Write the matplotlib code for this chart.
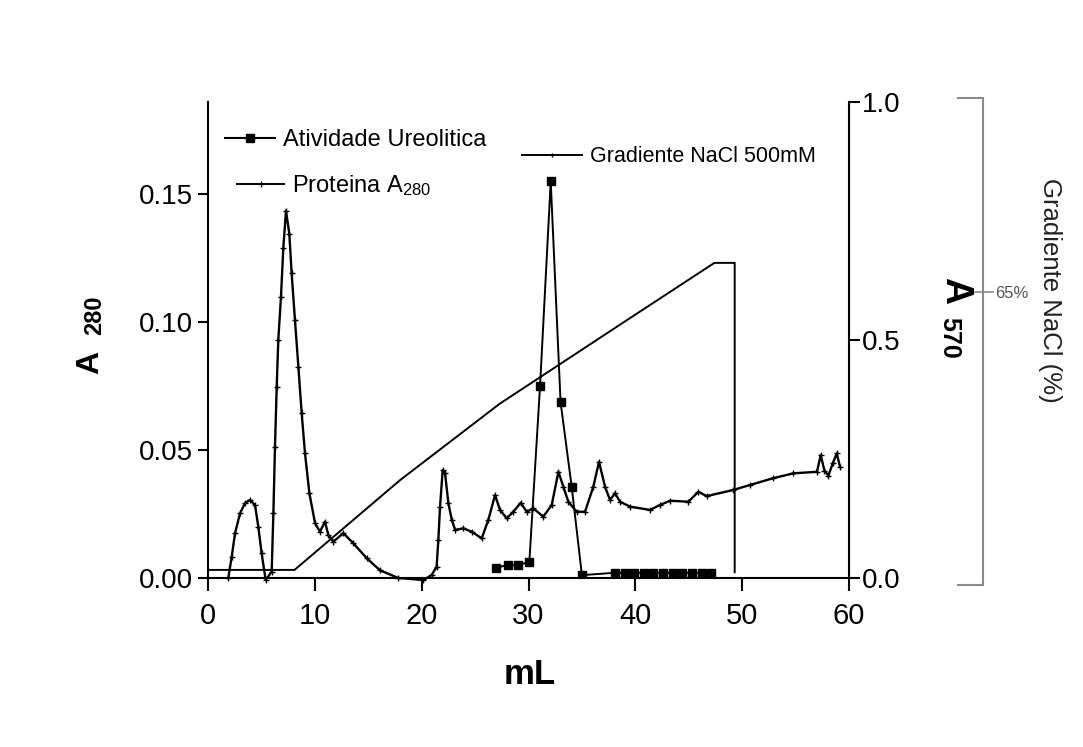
import matplotlib
matplotlib.use("Agg")
import matplotlib.pyplot as plt
from matplotlib.lines import Line2D
from matplotlib.ticker import FormatStrFormatter

# Proteina A280 (left axis)
prot_x = [1.9, 2.22, 2.53, 3.0, 3.46, 3.93, 4.4, 4.71, 5.02, 5.4,
          5.96, 6.12, 6.27, 6.43, 6.58, 6.83, 7.05, 7.3, 7.61, 7.83,
          8.14, 8.46, 8.77, 9.08, 9.49, 10.02, 10.48, 10.95, 11.26, 11.73,
          12.67, 13.6, 14.86, 16.1, 17.82, 20.16, 20.94, 21.4, 21.56, 21.72,
          21.97, 22.19, 22.5, 22.82, 23.13, 23.9, 24.68, 25.62, 26.24, 26.87,
          27.33, 27.96, 28.58, 29.27, 29.83, 30.45, 31.39, 32.17, 32.8, 33.26,
          33.73, 34.5, 35.29, 36.07, 36.6, 37.16, 37.63, 38.1, 38.57, 39.5,
          41.37, 42.3, 43.25, 44.96, 45.9, 46.68, 49.17, 50.7, 52.9, 54.8,
          57.0, 57.35, 57.7, 58.07, 58.5, 58.85, 59.16]
prot_y = [0.0, 0.0083, 0.0175, 0.0253, 0.0292, 0.0305, 0.0285, 0.020, 0.0096, -0.0008,
          0.0025, 0.0253, 0.0513, 0.0747, 0.093, 0.1099, 0.129, 0.1435, 0.1346, 0.119,
          0.1008, 0.0825, 0.0643, 0.0487, 0.0331, 0.0214, 0.0181, 0.022, 0.0168, 0.0142,
          0.0175, 0.0136, 0.0077, 0.003, 0.0, -0.0008, 0.0012, 0.0044, 0.0148, 0.0279,
          0.0422, 0.0409, 0.0292, 0.0227, 0.0188, 0.0194, 0.0181, 0.0155, 0.0227, 0.0324,
          0.0266, 0.0233, 0.0259, 0.0294, 0.0259, 0.0272, 0.024, 0.0285, 0.0415, 0.0357,
          0.0298, 0.0259, 0.0259, 0.0357, 0.0454, 0.0357, 0.0305, 0.0331, 0.0298, 0.0279,
          0.0266, 0.0285, 0.0302, 0.0298, 0.0337, 0.032, 0.0344, 0.0363, 0.039, 0.0409,
          0.0415, 0.048, 0.042, 0.040, 0.045, 0.0487, 0.0435]

# Atividade Ureolitica, A570 (right axis)
ure_x = [27.0, 28.05, 29.05, 30.08, 31.08, 32.08, 33.0, 34.04, 35.0,
         38.1, 39.0, 39.9, 40.8, 41.7, 42.6, 43.5, 44.4, 45.3, 46.2, 47.1]
ure_y = [0.022, 0.027, 0.027, 0.034, 0.403, 0.833, 0.370, 0.192, 0.006,
         0.011, 0.011, 0.011, 0.011, 0.011, 0.011, 0.011, 0.011, 0.011, 0.011, 0.011]

# Gradiente NaCl 500mM (right axis scale)
grad_x = [0, 8.1, 18.0, 27.3, 39.5, 47.4, 49.3, 49.3]
grad_y = [0.017, 0.017, 0.206, 0.366, 0.546, 0.662, 0.662, 0.012]

plt.rcParams['font.family'] = ['Liberation Sans', 'DejaVu Sans']
plt.rcParams['mathtext.default'] = 'regular'

W, H = 1083, 747
fig = plt.figure(figsize=(W / 100, H / 100), dpi=100)
ax = fig.add_axes([208 / W, 1 - 578 / H, 641 / W, 476 / H])

ax.plot(prot_x, prot_y, color='black', lw=1.7, marker='+', ms=4, mew=1.0, clip_on=False)
ax.set_xlim(0, 60)
ax.set_ylim(0, 0.186)
ax.set_xticks(range(0, 61, 10))
ax.set_yticks([0, 0.05, 0.10, 0.15])
ax.yaxis.set_major_formatter(FormatStrFormatter('%.2f'))
ax.spines['top'].set_visible(False)
ax.spines['right'].set_visible(False)
for s in ['left', 'bottom']:
    ax.spines[s].set_linewidth(1.5)
ax.tick_params(axis='y', direction='out', length=7, width=1.5, labelsize=20)
ax.tick_params(axis='x', direction='out', length=9, width=1.5, labelsize=21, pad=8)

ax2 = ax.twinx()
ax2.plot(grad_x, grad_y, color='black', lw=1.4)
ax2.plot(ure_x, ure_y, color='black', lw=1.4, marker='s', ms=6)
ax2.set_ylim(0, 1)
ax2.set_yticks([0, 0.5, 1.0])
ax2.yaxis.set_major_formatter(FormatStrFormatter('%.1f'))
for s in ['top', 'left', 'bottom']:
    ax2.spines[s].set_visible(False)
ax2.spines['right'].set_linewidth(1.5)
ax2.tick_params(axis='y', direction='out', length=8, width=1.5, labelsize=20, pad=1)

# grey NaCl % bracket
grey = '#8a8a8a'
ax3 = fig.add_axes([900 / W, 1 - 585 / H, 83 / W, 487 / H])
ax3.patch.set_visible(False)
for s in ['top', 'left', 'bottom']:
    ax3.spines[s].set_visible(False)
ax3.spines['right'].set_color(grey)
ax3.spines['right'].set_linewidth(1.5)
ax3.set_xticks([])
ax3.yaxis.tick_right()
ax3.set_ylim(0, 108)
ax3.set_yticks([0, 108])
ax3.set_yticklabels([])
ax3.set_yticks([65], minor=True)
ax3.set_yticklabels(['65%'], minor=True)
ax3.tick_params(axis='y', which='major', direction='in', length=19, width=1.5, color=grey)
ax3.tick_params(axis='y', which='minor', direction='inout', length=16, width=1.2,
                color=grey, labelcolor='#555555', labelsize=12, pad=1)

# axis titles
fig.text(90 / W, 1 - 362 / H, 'A', rotation=90, fontsize=23, fontweight='bold', ha='center', va='center')
fig.text(95 / W, 1 - 315 / H, '280', rotation=90, fontsize=17, fontweight='bold', ha='center', va='center')
fig.text(955 / W, 1 - 291 / H, 'A', rotation=270, fontsize=27, fontweight='bold', ha='center', va='center')
fig.text(949 / W, 1 - 338 / H, '570', rotation=270, fontsize=18, fontweight='bold', ha='center', va='center')
fig.text(1050 / W, 1 - 290 / H, 'Gradiente NaCl (%)', rotation=270, fontsize=18.5, color='#222222',
         ha='center', va='center')
fig.text(530 / W, 1 - 675 / H, 'mL', fontsize=25, fontweight='bold', ha='center', va='center')

# legends
common = dict(loc='center left', frameon=False, handletextpad=0.35,
              borderpad=0, borderaxespad=0)
fig.legend(handles=[Line2D([], [], color='black', lw=1.5, marker='s', ms=6)],
           labels=['Atividade Ureolitica'], bbox_to_anchor=(225 / W, 1 - 140 / H),
           handlelength=2.1, fontsize=17, **common)
fig.legend(handles=[Line2D([], [], color='black', lw=1.4, marker='+', ms=4, mew=0.9)],
           labels=['Proteina A$_{280}$'], bbox_to_anchor=(237 / W, 1 - 186 / H),
           handlelength=2.0, fontsize=17, **common)
fig.legend(handles=[Line2D([], [], color='black', lw=1.4, marker='|', ms=3)],
           labels=['Gradiente NaCl 500mM'], bbox_to_anchor=(522 / W, 1 - 157 / H),
           handlelength=2.8, fontsize=15.5, **common)

fig.savefig('out.png', dpi=100)
